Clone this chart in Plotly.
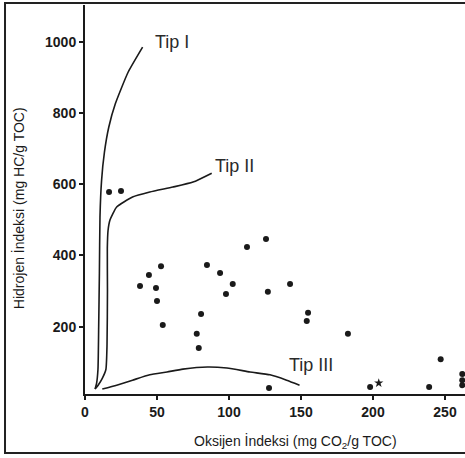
import plotly.graph_objects as go

# Sample points (Oksijen İndeksi, Hidrojen İndeksi)
oi_values = [16.7, 25, 52.8, 44.4, 38.2, 49.3, 50, 54, 77.6, 79, 80.6, 84.7,
             93.8, 102.6, 97.9, 112.5, 125.7, 127, 142.4, 154.9, 154, 182.6,
             247, 127.8, 198, 239, 262, 262, 262]
hi_values = [578, 581, 370, 345, 314, 309, 272, 205, 180, 140, 236, 373,
             351, 320, 292, 424, 446, 298, 320, 239, 216, 180,
             109, 28, 31, 31, 67, 50, 36]
star_oi = [204]
star_hi = [42]

# Evolution pathways
tip1_x = [7, 8, 9, 9.5, 10, 10.4, 11.5, 13.5, 16.5, 21, 30, 40]
tip1_y = [25, 40, 80, 200, 350, 508, 610, 690, 760, 825, 915, 985]
tip2_x = [7, 9, 12, 14.5, 15.3, 15.6, 15.5, 16, 17.4, 22, 33, 45, 61, 75, 88]
tip2_y = [25, 35, 55, 80, 150, 300, 420, 470, 500, 536, 564, 578, 592, 606, 631]
tip3_x = [12, 22, 33, 45, 57, 68, 85, 98.6, 114.6, 128.5, 140, 149]
tip3_y = [25, 36, 50, 65, 73, 81, 87, 84, 73, 65, 50, 36]

curve_labels = ["Tip I", "Tip II", "Tip III"]
label_x = [47.2, 88.9, 140.3]
label_y = [999, 651, 92.6]

x_ticks = [0, 50, 100, 150, 200, 250]
y_ticks = [200, 400, 600, 800, 1000]

ink = "#1a1a1a"
font = "Liberation Sans, Arial, sans-serif"

fig = go.Figure()
for cx, cy in [(tip1_x, tip1_y), (tip2_x, tip2_y), (tip3_x, tip3_y)]:
    fig.add_trace(go.Scatter(x=cx, y=cy, mode="lines",
                             line=dict(color=ink, width=1.6, shape="spline", smoothing=0.5),
                             hoverinfo="skip", showlegend=False))
fig.add_trace(go.Scatter(x=oi_values, y=hi_values, mode="markers",
                         marker=dict(color=ink, size=6), showlegend=False))
fig.add_trace(go.Scatter(x=star_oi, y=star_hi, mode="markers",
                         marker=dict(color=ink, size=7, symbol="star"), showlegend=False))

for t, lx, ly in zip(curve_labels, label_x, label_y):
    fig.add_annotation(x=lx, y=ly, text=t, showarrow=False, xanchor="left", yanchor="middle",
                       font=dict(family=font, size=18, color="#2a2a2a"))

fig.add_annotation(xref="paper", yref="paper", x=0.553, y=-0.123,
                   text="Oksijen İndeksi (mg CO<sub>2</sub>/g TOC)",
                   showarrow=False, xanchor="center", yanchor="middle",
                   font=dict(family=font, size=14, color=ink))
fig.add_annotation(xref="paper", yref="paper", x=-0.176, y=0.478,
                   text="Hidrojen İndeksi (mg HC/g TOC)",
                   showarrow=False, textangle=-90, xanchor="center", yanchor="middle",
                   font=dict(family=font, size=14, color=ink))

# outer frame
fig.add_shape(type="rect", xref="paper", yref="paper", x0=-0.2105, x1=1.02, y0=-0.1517, y1=1.005,
              line=dict(color="#222", width=2), layer="below")

fig.update_xaxes(range=[0, 263.9], tickvals=x_ticks, ticks="outside", ticklen=4, tickwidth=1.5, tickcolor=ink,
                 showline=True, linecolor=ink, linewidth=2, showgrid=False, zeroline=False,
                 tickfont=dict(family=font, size=14, color=ink, weight="bold"))
fig.update_yaxes(range=[11.2, 1103], tickvals=y_ticks, ticks="outside", ticklen=4, tickwidth=1.5, tickcolor=ink,
                 showline=True, linecolor=ink, linewidth=2, showgrid=False, zeroline=False,
                 tickfont=dict(family=font, size=14, color=ink, weight="bold"))

fig.update_layout(width=465, height=458, margin=dict(l=85, r=0, t=5, b=64),
                  plot_bgcolor="white", paper_bgcolor="white", showlegend=False)

fig.write_html("out.html", config={"displayModeBar": False},
               post_script="document.body.style.margin='0';document.body.style.overflow='hidden';")
